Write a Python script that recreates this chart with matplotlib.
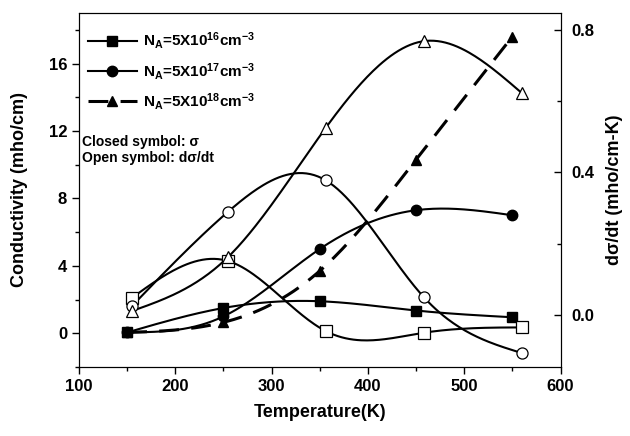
import numpy as np
import matplotlib
matplotlib.use("Agg")
import matplotlib.pyplot as plt
from matplotlib.ticker import MultipleLocator
from matplotlib.lines import Line2D

plt.rcParams["font.family"] = ["Liberation Sans", "DejaVu Sans"]
plt.rcParams["font.weight"] = "bold"
plt.rcParams["mathtext.fontset"] = "custom"
plt.rcParams["mathtext.rm"] = "Liberation Sans:bold"
plt.rcParams["mathtext.bf"] = "Liberation Sans:bold"
plt.rcParams["mathtext.default"] = "bf"

# closed symbols: conductivity (left axis)
temp_closed = [150, 250, 350, 450, 550]
sigma_16 = [0.05, 1.5, 1.9, 1.35, 0.95]
sigma_17 = [0.05, 1.0, 5.0, 7.3, 7.0]
sigma_18 = [0.05, 0.65, 3.7, 10.3, 17.6]

# open symbols: d(sigma)/dT (right axis)
temp_open = [155, 255, 356, 458, 560]
dsig_16 = [0.048, 0.151, -0.045, -0.05, -0.035]
dsig_17 = [0.025, 0.29, 0.378, 0.05, -0.107]
dsig_18 = [0.011, 0.163, 0.524, 0.768, 0.622]

labels = [r"N$_A$=5X10$^{16}$cm$^{-3}$",
          r"N$_A$=5X10$^{17}$cm$^{-3}$",
          r"N$_A$=5X10$^{18}$cm$^{-3}$"]
markers = ["s", "o", "^"]


def spline(x, y, n=200):
    """natural cubic spline through the points, just for drawing the line"""
    x = np.asarray(x, float)
    y = np.asarray(y, float)
    k = len(x)
    h = np.diff(x)
    A = np.zeros((k, k))
    b = np.zeros(k)
    A[0, 0] = A[-1, -1] = 1
    for i in range(1, k - 1):
        A[i, i - 1] = h[i - 1]
        A[i, i] = 2 * (h[i - 1] + h[i])
        A[i, i + 1] = h[i]
        b[i] = 6 * ((y[i + 1] - y[i]) / h[i] - (y[i] - y[i - 1]) / h[i - 1])
    M = np.linalg.solve(A, b)
    xs = np.linspace(x[0], x[-1], n)
    idx = np.clip(np.searchsorted(x, xs) - 1, 0, k - 2)
    x0, x1 = x[idx], x[idx + 1]
    hh = x1 - x0
    t0, t1 = x1 - xs, xs - x0
    ys = (M[idx] * t0 ** 3 + M[idx + 1] * t1 ** 3) / (6 * hh) \
        + (y[idx] / hh - M[idx] * hh / 6) * t0 \
        + (y[idx + 1] / hh - M[idx + 1] * hh / 6) * t1
    return xs, ys


fig = plt.figure(figsize=(6.3, 4.36), dpi=100)
ax = fig.add_axes([0.1254, 0.1583, 0.7643, 0.8119])
ax2 = ax.twinx()

dash = (0, (6.5, 4))
styles = ["-", "-", dash]
closed = [sigma_16, sigma_17, sigma_18]
opened = [dsig_16, dsig_17, dsig_18]

for vals, m, ls in zip(closed, markers, styles):
    xs, ys = spline(temp_closed, vals)
    lw = 2.2 if ls is dash else 1.5
    ax.plot(xs, ys, color="black", lw=lw, linestyle=ls, zorder=2)
    ax.plot(temp_closed, vals, linestyle="none", marker=m, ms=7.5,
            mfc="black", mec="black", zorder=3)

for vals, m in zip(opened, markers):
    xs, ys = spline(temp_open, vals)
    ax2.plot(xs, ys, color="black", lw=1.5, zorder=2)
    ax2.plot(temp_open, vals, linestyle="none", marker=m, ms=8,
             mfc="white", mec="black", mew=0.9, zorder=3)

ax.set_xlim(100, 600)
ax.set_ylim(-2, 19)
ax2.set_ylim(-0.146, 0.847)

ax.xaxis.set_major_locator(MultipleLocator(100))
ax.xaxis.set_minor_locator(MultipleLocator(50))
ax.yaxis.set_major_locator(MultipleLocator(4))
ax.yaxis.set_minor_locator(MultipleLocator(2))
ax2.yaxis.set_minor_locator(MultipleLocator(0.2))
ax2.set_yticks([0.0, 0.4, 0.8])
ax2.set_yticklabels(["0.0", "0.4", "0.8"])

ax.tick_params(axis="both", which="major", direction="out", length=5,
               width=1, labelsize=12)
ax.tick_params(axis="both", which="minor", direction="out", length=3, width=1)
ax2.tick_params(axis="y", which="major", direction="in", length=5,
                width=1, labelsize=12, pad=8)
ax2.tick_params(axis="y", which="minor", direction="in", length=3, width=1)

ax.set_xlabel("Temperature(K)", fontsize=13, fontweight="bold", labelpad=7)
ax.set_ylabel("Conductivity (mho/cm)", fontsize=13, fontweight="bold",
              labelpad=15)
ax2.set_ylabel("d\u03c3/dt (mho/cm-K)", fontsize=13, fontweight="bold",
               labelpad=8)

handles = [Line2D([], [], color="black", lw=2.2 if ls is dash else 1.5,
                  linestyle=ls, marker=m, ms=7.5, mfc="black", mec="black")
           for m, ls in zip(markers, styles)]
leg = ax.legend(handles, labels, loc="upper left",
                bbox_to_anchor=(-0.01, 0.99), frameon=False,
                fontsize=11, handlelength=3.2, handletextpad=0.4,
                labelspacing=0.62)

ax.text(0.006, 0.636, "Closed symbol: \u03c3", transform=ax.transAxes,
        fontsize=10, fontweight="bold", va="center")
ax.text(0.006, 0.591, "Open symbol: d\u03c3/dt", transform=ax.transAxes,
        fontsize=10, fontweight="bold", va="center")

fig.savefig("out.png", dpi=100)
